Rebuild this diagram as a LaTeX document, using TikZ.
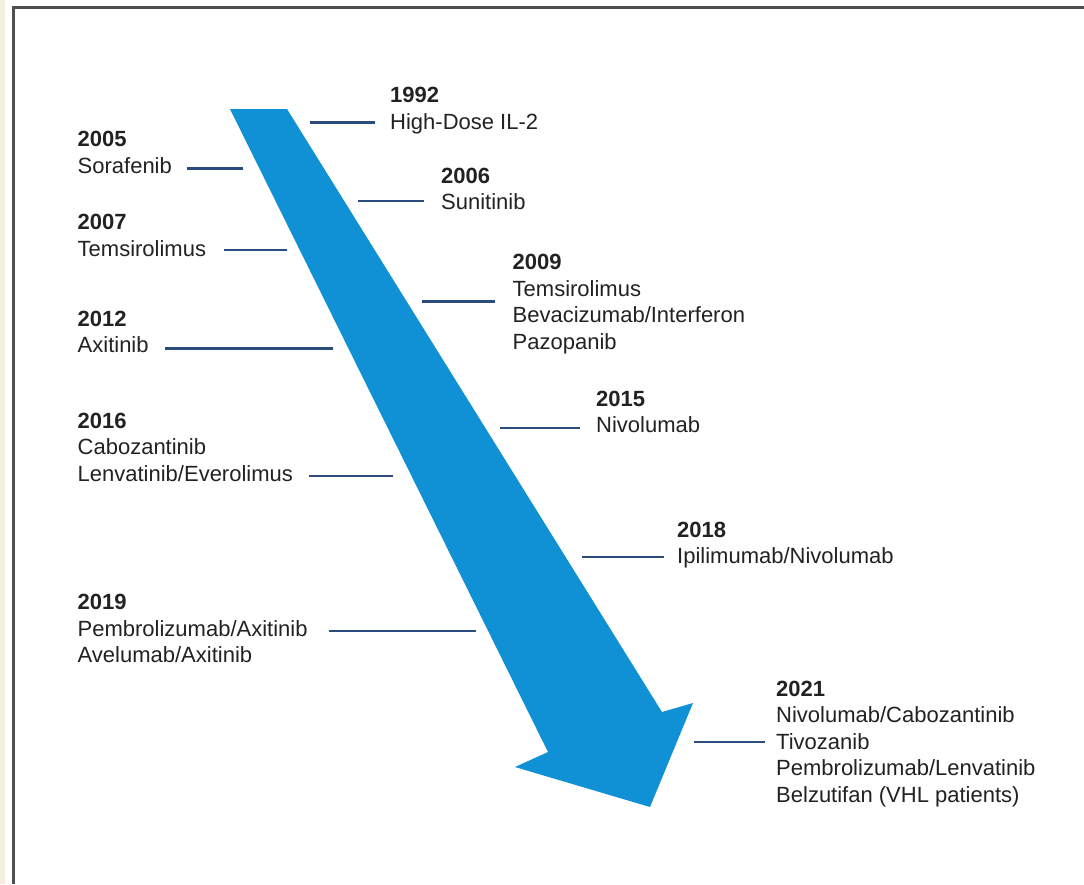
\documentclass[tikz,border=0pt]{standalone}
\usepackage{fontspec}
\setmainfont{Liberation Sans}
\definecolor{cream}{HTML}{F5EEDC}
\definecolor{framegray}{HTML}{505050}
\definecolor{arrowblue}{HTML}{1191D5}
\definecolor{tickblue}{HTML}{2B4C7E}
\definecolor{txt}{HTML}{222222}
\begin{document}
\begin{tikzpicture}[x=1pt,y=-1pt,
  lbl/.style={anchor=north west, inner sep=0pt, align=left, text=txt,
              font=\fontsize{22}{26.5}\selectfont},
  tick/.style={draw=tickblue, line width=2.6pt}]
\useasboundingbox (0,0) rectangle (1084,884);
\fill[white] (0,0) rectangle (1084,884);
\fill[cream] (0,0) rectangle (5,884);
\draw[framegray, line width=3pt] (13,884) -- (13,7) -- (1084,7);
% big arrow
\fill[arrowblue] (230,109) -- (287,109) -- (662,712) -- (693,703) -- (650,807)
  -- (515,767) -- (548,752) -- cycle;
% labels (top = first baseline - 15.8)
\node[lbl] (t1992) at (390,87.2)  {\textbf{1992}\\High-Dose IL-2};
\node[lbl] (t2005) at (77.5,131.2) {\textbf{2005}\\Sorafenib};
\node[lbl] (t2006) at (441,167.5) {\textbf{2006}\\Sunitinib};
\node[lbl] (t2007) at (77.5,214.2) {\textbf{2007}\\Temsirolimus};
\node[lbl] (t2009) at (512.5,254.2) {\textbf{2009}\\Temsirolimus\\Bevacizumab/Interferon\\Pazopanib};
\node[lbl] (t2012) at (77.5,310.9) {\textbf{2012}\\Axitinib};
\node[lbl] (t2015) at (596,390.9) {\textbf{2015}\\Nivolumab};
\node[lbl] (t2016) at (77.5,412.5) {\textbf{2016}\\Cabozantinib\\Lenvatinib/Everolimus};
\node[lbl] (t2018) at (677,521.5) {\textbf{2018}\\Ipilimumab/Nivolumab};
\node[lbl] (t2019) at (77.5,594.2) {\textbf{2019}\\Pembrolizumab/Axitinib\\Avelumab/Axitinib};
\node[lbl] (t2021) at (776,680.9) {\textbf{2021}\\Nivolumab/Cabozantinib\\Tivozanib\\Pembrolizumab/Lenvatinib\\Belzutifan (VHL patients)};
% connector end points
\coordinate (a1992) at (310,122.7); \coordinate (b1992) at (375,122.7);
\coordinate (a2005) at (187,168.5); \coordinate (b2005) at (243,168.5);
\coordinate (a2006) at (358,201);   \coordinate (b2006) at (424,201);
\coordinate (a2007) at (224,250);   \coordinate (b2007) at (287,250);
\coordinate (a2009) at (422,301.5); \coordinate (b2009) at (495,301.5);
\coordinate (a2012) at (165,348.5); \coordinate (b2012) at (333,348.5);
\coordinate (a2015) at (500,428);   \coordinate (b2015) at (580,428);
\coordinate (a2016) at (309,476);   \coordinate (b2016) at (393,476);
\coordinate (a2018) at (582,557);   \coordinate (b2018) at (664,557);
\coordinate (a2019) at (329,631);   \coordinate (b2019) at (476,631);
\coordinate (a2021) at (694,742);   \coordinate (b2021) at (765,742);
\foreach \y in {1992,2005,2006,2007,2009,2012,2015,2016,2018,2019,2021}
  \draw[tick] (a\y) -- (b\y);
\end{tikzpicture}
\end{document}
